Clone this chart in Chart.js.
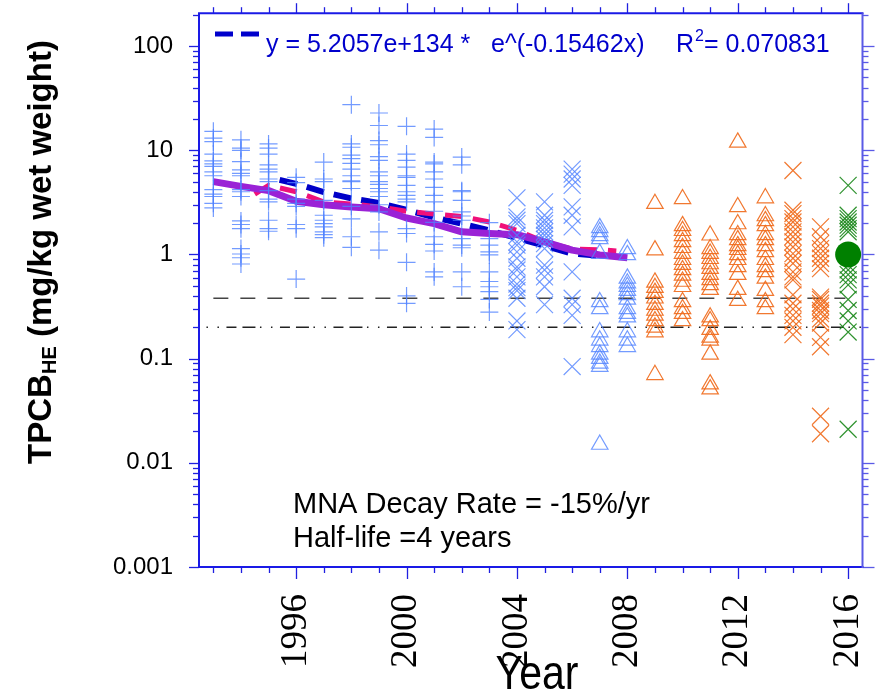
<!DOCTYPE html>
<html><head><meta charset="utf-8">
<script src="https://cdn.jsdelivr.net/npm/chart.js@4/dist/chart.umd.min.js"></script>
<style>html,body{margin:0;padding:0;background:#fff;}#wrap{width:876px;height:693px;}</style>
</head><body><div id="wrap"><canvas id="c" width="876" height="693"></canvas></div>
<script>
// ---- data ----
const plusYears = [1993,1994,1995,1996,1997,1998,1999,2000,2001,2002,2003];
const plusValues = [
  [15.2,13.1,12.1,9.2,7.9,7.4,7.0,6.2,5.7,4.2,3.8,3.6,3.1,2.8],
  [12.6,10.5,10.0,7.8,6.5,6.0,5.7,4.2,4.0,3.6,2.1,1.94,1.77,1.14,1.01,0.93,0.81],
  [11.5,10.5,9.2,7.25,6.6,6.2,5.3,5.0,4.1,3.4,3.2,2.13,1.77,1.67],
  [5.5,4.9,3.4,3.1,2.9,1.94,1.77,0.58],
  [7.7,5.3,5.0,3.3,2.38,2.13,1.98,1.84,1.65,1.55,1.45],
  [27.4,11.5,10.7,9.0,8.3,7.5,6.6,5.7,5.1,5.0,4.3,2.9,2.2,1.48,1.17],
  [22.8,17.3,12.4,11.3,8.7,8.0,6.2,5.7,5.0,4.7,4.3,4.0,3.6,3.0,2.56,1.65,1.10],
  [17.0,9.2,8.0,6.9,5.7,5.5,4.6,4.0,3.7,3.4,3.2,1.77,1.59,0.84,0.40,0.34],
  [16.0,13.3,7.7,7.4,6.2,5.3,4.4,3.7,3.2,2.6,2.03,1.48,1.25,1.08,0.68,0.61],
  [8.6,7.25,4.1,4.0,3.3,2.56,2.34,2.13,1.42,1.23,1.16,0.68,0.49],
  [2.02,1.42,1.23,1.06,0.99,0.68,0.55,0.49,0.44,0.37,0.28]
];
const blueXYears = [2004,2005,2006];
const blueXValues = [
  [3.5,2.3,2.13,1.98,1.53,1.32,1.23,1.06,0.92,0.76,0.71,0.61,0.52,0.48,0.45,0.38,0.23,0.19],
  [3.2,2.38,2.13,1.98,1.80,1.65,1.53,1.40,1.27,1.14,0.79,0.71,0.61,0.49,0.33],
  [6.6,5.9,5.3,4.6,2.86,2.38,1.84,0.68,0.38,0.33,0.26,0.084]
];
const blueTriYears = [2007,2008];
const blueTriValues = [
  [1.80,1.65,1.51,1.41,1.02,0.35,0.30,0.18,0.15,0.13,0.11,0.10,0.090,0.084,0.015],
  [1.13,0.99,0.59,0.53,0.49,0.45,0.41,0.37,0.30,0.27,0.25,0.18,0.15,0.13]
];
const orangeTriYears = [2009,2010,2011,2012,2013];
const orangeTriValues = [
  [3.07,1.10,0.54,0.48,0.43,0.38,0.33,0.29,0.26,0.23,0.20,0.18,0.070],
  [3.41,1.88,1.69,1.51,1.32,1.16,1.02,0.89,0.80,0.71,0.63,0.55,0.49,0.35,0.30,0.27,0.23],
  [1.53,1.13,1.02,0.91,0.81,0.73,0.64,0.57,0.51,0.46,0.25,0.23,0.19,0.16,0.15,0.11,0.057,0.051],
  [11.9,2.86,1.96,1.54,1.38,1.21,1.11,0.99,0.89,0.76,0.64,0.46,0.36],
  [3.48,2.34,2.10,1.88,1.54,1.38,1.21,1.06,0.89,0.76,0.68,0.59,0.45,0.35,0.30]
];
const orangeXYears = [2014,2015];
const orangeXValues = [
  [6.4,2.66,2.47,2.21,2.05,1.84,1.65,1.48,1.32,1.18,1.02,0.92,0.82,0.68,0.61,0.57,0.41,0.34,0.30,0.26,0.23,0.20,0.17],
  [1.84,1.48,1.27,1.14,1.02,0.92,0.82,0.73,0.39,0.37,0.34,0.32,0.29,0.27,0.24,0.22,0.16,0.13,0.028,0.019]
];
const greenXYears = [2016];
const greenXValues = [
  [4.6,2.38,2.21,2.05,1.91,1.77,1.65,0.99,0.79,0.71,0.64,0.57,0.51,0.37,0.29,0.23,0.18,0.021]
];
const meanYears = [2016];
const meanValues = [1.0];
const purpleYears = [1993,1994,1995,1996,1997,1998,1999,2000,2001,2002,2003,2004,2005,2006,2007,2008];
const purpleValues = [5.0,4.5,4.1,3.24,3.0,2.86,2.75,2.24,1.98,1.65,1.59,1.55,1.32,1.10,0.99,0.93];
const pinkYears = [1994.5,1995,1996,1997,1998,1999,2000,2001,2002,2003,2004,2005,2006,2007,2007.6];
const pinkValues = [3.8,4.6,4.0,3.2,3.05,2.86,2.6,2.45,2.32,2.05,1.70,1.32,1.13,1.11,1.08];
const navyYears = [1995.4,1996,1997,1998,1999,2000,2001,2002,2003,2004,2005,2006,2007];
const navyValues = [5.2,4.77,3.97,3.45,3.12,2.68,2.27,1.97,1.70,1.44,1.21,1.02,0.97];
const dashedRefYears = [1993,2015.9];
const dashedRefValues = [0.38,0.38];
const dotRefYears = [1992.75,2016.5];
const dotRefValues = [0.2,0.2];
const xTickValues = [1996,2000,2004,2008,2012,2016];
const xMinorYears = [1993,1994,1995,1996,1997,1998,1999,2000,2001,2002,2003,2004,2005,2006,2007,2008,2009,2010,2011,2012,2013,2014,2015,2016];
const yTickValues = [0.001,0.01,0.1,1,10,100];
const yTickLabels = ['0.001','0.01','0.1','1','10','100'];
const fitParts = ['y = 5.2057e+134 *','e^(-0.15462x)'];
const r2Label = 'R';
const r2Value = '= 0.070831';
const noteLines = ['MNA Decay Rate = -15%/yr','Half-life =4 years'];

// ---- helpers ----
function columns(years, values){
  const out=[];
  years.forEach((yr,i)=>values[i].forEach(v=>out.push({x:yr,y:v})));
  return out;
}
function series(xs, ys){ return xs.map((x,i)=>({x:x,y:ys[i]})); }

const SANS = '"Liberation Sans", Arial, sans-serif';
const SERIF = '"Liberation Serif", "Times New Roman", serif';
const BLUE_M = 'rgba(80,130,255,0.8)';
const ORANGE_M = 'rgba(240,105,25,0.9)';
const GREEN_M = 'rgba(25,135,25,0.9)';

const frame = {
  id:'frame',
  afterDraw(chart){
    const {ctx, chartArea:a, scales:{x,y}} = chart;
    ctx.save();
    function ln(x1,y1,x2,y2){ctx.beginPath();ctx.moveTo(x1,y1);ctx.lineTo(x2,y2);ctx.stroke();}
    ctx.lineWidth = 1.3;
    ctx.strokeStyle = '#2020e0';
    xMinorYears.forEach(yr=>{
      const px = Math.round(x.getPixelForValue(yr))+0.5;
      const maj = xTickValues.includes(yr);
      ln(px,a.bottom,px,a.bottom+(maj?12:6));
      ln(px,a.top,px,a.top-(maj?10:6));
    });
    for(let e=-3;e<=2;e++){
      for(let k=1;k<=9;k++){
        const v=k*Math.pow(10,e);
        if(v>y.max) break;
        const py=Math.round(y.getPixelForValue(v))+0.5;
        ctx.strokeStyle='#2020e0';
        ln(a.left-(k===1?10:6),py,a.left,py);
        ctx.strokeStyle='#5a5ae6';
        ln(a.right,py,a.right+(k===1?12:6),py);
      }
    }
    ctx.lineWidth=2;
    ctx.strokeStyle='#1a1ae6';
    ln(a.left,a.top,a.left,a.bottom+1);
    ln(a.left-1,a.bottom,a.right+1,a.bottom);
    ln(a.left-1,a.top,a.right+1,a.top);
    ctx.strokeStyle='#5a5ae6';
    ln(a.right,a.top,a.right,a.bottom+1);

    // legend (fit)
    ctx.strokeStyle='#0000cc'; ctx.lineWidth=5; ctx.setLineDash([18,8]);
    ln(215,34,261,34);
    ctx.setLineDash([]);
    ctx.fillStyle='#0000cc';
    ctx.textBaseline='alphabetic'; ctx.textAlign='left';
    ctx.font='25px '+SANS;
    ctx.fillText(fitParts[0],266,52);
    ctx.fillText(fitParts[1],491,52);
    ctx.fillText(r2Label,676,52);
    const rw=ctx.measureText(r2Label).width;
    ctx.font='16px '+SANS;
    ctx.fillText('2',676+rw+1,41);
    const sw=ctx.measureText('2').width;
    ctx.font='25px '+SANS;
    ctx.fillText(r2Value,676+rw+sw+1,52);

    // notes
    ctx.fillStyle='#000';
    ctx.font='29px '+SANS;
    ctx.fillText(noteLines[0],293,513);
    ctx.fillText(noteLines[1],293,547);

    // x title (slightly tall, as in the reference)
    ctx.save();
    ctx.translate(537,689);
    ctx.scale(1,1.15);
    ctx.font='41px '+SANS;
    ctx.textAlign='center';
    ctx.fillText('Year',0,0);
    ctx.restore();

    // y title with subscript
    ctx.translate(51,252);
    ctx.rotate(-Math.PI/2);
    ctx.textAlign='left';
    const big='bold 33px '+SANS, small='bold 20px '+SANS;
    ctx.font=big; const w1=ctx.measureText('TPCB').width;
    ctx.font=small; const w2=ctx.measureText('HE').width;
    ctx.font=big; const w3=ctx.measureText(' (mg/kg wet weight)').width;
    let sx=-(w1+w2+w3)/2;
    ctx.font=big; ctx.fillText('TPCB',sx,0); sx+=w1;
    ctx.font=small; ctx.fillText('HE',sx,5); sx+=w2;
    ctx.font=big; ctx.fillText(' (mg/kg wet weight)',sx,0);
    ctx.restore();
  }
};

const markerBase = {showLine:false, borderWidth:1.2, pointHoverRadius:0};

new Chart(document.getElementById('c'), {
  type:'scatter',
  data:{datasets:[
    {data:series(meanYears,meanValues), pointStyle:'circle', pointRadius:13, backgroundColor:'#008000', borderColor:'#008000', borderWidth:0, showLine:false},
    {data:columns(plusYears,plusValues), pointStyle:'cross', pointRadius:9, borderColor:BLUE_M, ...markerBase},
    {data:columns(blueXYears,blueXValues), pointStyle:'crossRot', pointRadius:12, borderColor:BLUE_M, ...markerBase},
    {data:columns(blueTriYears,blueTriValues), pointStyle:'triangle', pointRadius:9.5, borderColor:BLUE_M, backgroundColor:'rgba(0,0,0,0)', ...markerBase},
    {data:columns(orangeTriYears,orangeTriValues), pointStyle:'triangle', pointRadius:9.5, borderColor:ORANGE_M, backgroundColor:'rgba(0,0,0,0)', ...markerBase},
    {data:columns(orangeXYears,orangeXValues), pointStyle:'crossRot', pointRadius:12, borderColor:ORANGE_M, ...markerBase},
    {data:columns(greenXYears,greenXValues), pointStyle:'crossRot', pointRadius:12, borderColor:GREEN_M, ...markerBase},
    {data:series(purpleYears,purpleValues), showLine:true, borderColor:'#9a22d6', borderWidth:7, pointRadius:0, borderJoinStyle:'round', tension:0},
    {data:series(pinkYears,pinkValues), showLine:true, borderColor:'#f0107a', borderWidth:5, borderDash:[17,11], pointRadius:0, tension:0},
    {data:series(navyYears,navyValues), showLine:true, borderColor:'#0000c8', borderWidth:6, borderDash:[18,10], pointRadius:0, tension:0},
    {data:series(dashedRefYears,dashedRefValues), showLine:true, borderColor:'#444', borderWidth:1.6, borderDash:[15,12], pointRadius:0},
    {data:series(dotRefYears,dotRefValues), showLine:true, borderColor:'#222', borderWidth:1.4, borderDash:[1.5,9.5,1.5,7.5,10,6,13,4.5], pointRadius:0}
  ]},
  options:{
    responsive:false, devicePixelRatio:1, animation:false, events:[],
    layout:{padding:{left:0,right:13.5,top:10,bottom:0}},
    plugins:{legend:{display:false}, tooltip:{enabled:false}},
    scales:{
      x:{type:'linear', min:1992.48, max:2016.52,
        grid:{display:false, drawTicks:false}, border:{display:false},
        afterBuildTicks(s){ s.ticks = xTickValues.map(v=>({value:v})); },
        afterFit(s){ s.height=126; s.paddingLeft=0; s.paddingRight=0; },
        ticks:{autoSkip:false, minRotation:90, maxRotation:90, padding:27, color:'#000',
          font:{family:SERIF, size:37}, callback:(v)=>String(v)}
      },
      y:{type:'logarithmic', min:0.001, max:207,
        grid:{display:false, drawTicks:false}, border:{display:false},
        afterBuildTicks(s){ s.ticks = yTickValues.map(v=>({value:v})); },
        afterFit(s){ s.width=199; s.paddingTop=0; s.paddingBottom=0; },
        ticks:{autoSkip:false, padding:26, color:'#000', font:{family:SANS, size:24},
          callback:(v)=>{const i=yTickValues.indexOf(v); return i>=0?yTickLabels[i]:'';}}
      }
    }
  },
  plugins:[frame]
});
</script>
</body></html>
